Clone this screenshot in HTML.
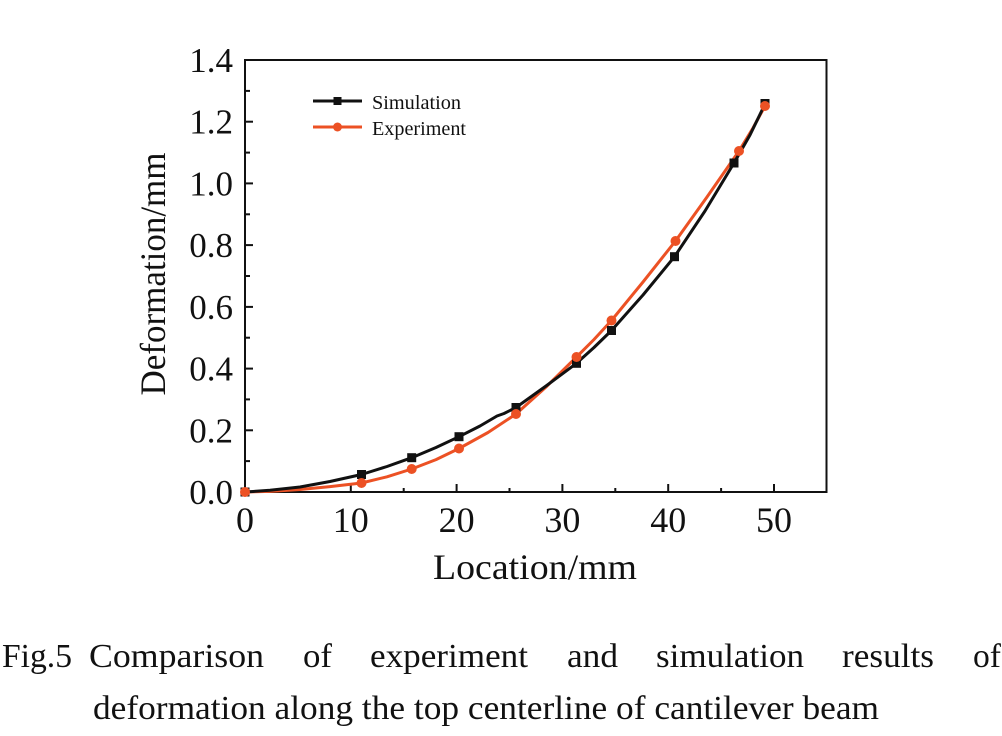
<!DOCTYPE html>
<html>
<head>
<meta charset="utf-8">
<style>
  html,body{margin:0;padding:0;background:#fff;}
  svg{display:block;}
  text{font-family:"Liberation Serif","Times New Roman",serif;fill:#111;}
</style>
</head>
<body>
<svg width="1002" height="736" viewBox="0 0 1002 736" xmlns="http://www.w3.org/2000/svg">
  <rect x="0" y="0" width="1002" height="736" fill="#fff"/>

  <!-- frame -->
  <rect x="245" y="60" width="581.5" height="432" fill="none" stroke="#111" stroke-width="2"/>

  <!-- x ticks (inward) -->
  <g stroke="#111" stroke-width="2">
    <line x1="350.8" y1="492" x2="350.8" y2="484"/>
    <line x1="456.6" y1="492" x2="456.6" y2="484"/>
    <line x1="562.4" y1="492" x2="562.4" y2="484"/>
    <line x1="668.2" y1="492" x2="668.2" y2="484"/>
    <line x1="774" y1="492" x2="774" y2="484"/>
    <line x1="297.9" y1="492" x2="297.9" y2="488"/>
    <line x1="403.7" y1="492" x2="403.7" y2="488"/>
    <line x1="509.5" y1="492" x2="509.5" y2="488"/>
    <line x1="615.3" y1="492" x2="615.3" y2="488"/>
    <line x1="721.1" y1="492" x2="721.1" y2="488"/>
  </g>
  <!-- y ticks (inward) -->
  <g stroke="#111" stroke-width="2">
    <line x1="245" y1="430.3" x2="253" y2="430.3"/>
    <line x1="245" y1="368.6" x2="253" y2="368.6"/>
    <line x1="245" y1="306.9" x2="253" y2="306.9"/>
    <line x1="245" y1="245.1" x2="253" y2="245.1"/>
    <line x1="245" y1="183.4" x2="253" y2="183.4"/>
    <line x1="245" y1="121.7" x2="253" y2="121.7"/>
    <line x1="245" y1="461.1" x2="250" y2="461.1"/>
    <line x1="245" y1="399.4" x2="250" y2="399.4"/>
    <line x1="245" y1="337.7" x2="250" y2="337.7"/>
    <line x1="245" y1="276" x2="250" y2="276"/>
    <line x1="245" y1="214.3" x2="250" y2="214.3"/>
    <line x1="245" y1="152.6" x2="250" y2="152.6"/>
    <line x1="245" y1="90.9" x2="250" y2="90.9"/>
  </g>

  <!-- y tick labels -->
  <g font-size="35" text-anchor="end">
    <text x="233" y="504">0.0</text>
    <text x="233" y="442.3">0.2</text>
    <text x="233" y="380.6">0.4</text>
    <text x="233" y="318.9">0.6</text>
    <text x="233" y="257.1">0.8</text>
    <text x="233" y="195.4">1.0</text>
    <text x="233" y="133.7">1.2</text>
    <text x="233" y="72">1.4</text>
  </g>
  <!-- x tick labels -->
  <g font-size="36" text-anchor="middle">
    <text x="245" y="532">0</text>
    <text x="350.8" y="532">10</text>
    <text x="456.6" y="532">20</text>
    <text x="562.4" y="532">30</text>
    <text x="668.2" y="532">40</text>
    <text x="774" y="532">50</text>
  </g>

  <!-- axis titles -->
  <text x="433" y="579" font-size="36" textLength="204" lengthAdjust="spacingAndGlyphs">Location/mm</text>
  <text transform="translate(165,274) rotate(-90)" x="0" y="0" font-size="36" text-anchor="middle" textLength="243" lengthAdjust="spacingAndGlyphs">Deformation/mm</text>

  <!-- Experiment series -->
  <polyline fill="none" stroke="#EC5124" stroke-width="3" stroke-linejoin="round"
    points="245,492 270,491.4 300,489.5 330,486.6 361.5,483 387,476.8 411.7,469 436,459.6 459,448.5 488,432.5 516,414 546,387 576.5,357 594,339.5 611.5,320.5 643,282 675.5,241 707,197 739,151 753,128 765,106"/>
  <!-- Simulation series -->
  <polyline fill="none" stroke="#111" stroke-width="3" stroke-linejoin="round"
    points="245,492 270,490.3 300,487 330,481.5 361.5,474.5 387,466.5 411.7,457.7 436,447.5 459,436.7 480,426 497,416 504,413.5 516,407.5 546,386 576.5,363.3 594,347.5 611.5,330.5 643,295 674.5,256.7 705,211 734,163 750,135 765,104"/>

  <!-- Simulation markers -->
  <g fill="#111">
    <rect x="240.5" y="487.5" width="9" height="9"/>
    <rect x="357" y="470" width="9" height="9"/>
    <rect x="407.2" y="453.2" width="9" height="9"/>
    <rect x="454.5" y="432.2" width="9" height="9"/>
    <rect x="511.5" y="403" width="9" height="9"/>
    <rect x="572" y="358.8" width="9" height="9"/>
    <rect x="607" y="326" width="9" height="9"/>
    <rect x="670" y="252.2" width="9" height="9"/>
    <rect x="729.5" y="158.5" width="9" height="9"/>
    <rect x="760.5" y="99" width="9" height="9"/>
  </g>
  <!-- Experiment markers -->
  <g fill="#EC5124">
    <circle cx="245" cy="492" r="5"/>
    <circle cx="361.5" cy="483" r="5"/>
    <circle cx="411.7" cy="469" r="5"/>
    <circle cx="459" cy="448.5" r="5"/>
    <circle cx="516" cy="414" r="5"/>
    <circle cx="576.5" cy="357" r="5"/>
    <circle cx="611.5" cy="320.5" r="5"/>
    <circle cx="675.5" cy="241" r="5"/>
    <circle cx="739" cy="151" r="5"/>
    <circle cx="765" cy="106" r="5"/>
  </g>

  <!-- legend -->
  <line x1="313" y1="101" x2="362" y2="101" stroke="#111" stroke-width="3"/>
  <rect x="333.5" y="97" width="8" height="8" fill="#111"/>
  <text x="372" y="109" font-size="20" textLength="89" lengthAdjust="spacingAndGlyphs">Simulation</text>
  <line x1="313" y1="127" x2="362" y2="127" stroke="#EC5124" stroke-width="3"/>
  <circle cx="337.5" cy="127" r="4.5" fill="#EC5124"/>
  <text x="372" y="135" font-size="20" textLength="94" lengthAdjust="spacingAndGlyphs">Experiment</text>

  <!-- caption -->
  <g font-size="34" lengthAdjust="spacingAndGlyphs">
    <text x="2" y="667" textLength="70" lengthAdjust="spacingAndGlyphs">Fig.5</text>
    <text x="89" y="667" textLength="175" lengthAdjust="spacingAndGlyphs">Comparison</text>
    <text x="303" y="667" textLength="29" lengthAdjust="spacingAndGlyphs">of</text>
    <text x="370" y="667" textLength="158" lengthAdjust="spacingAndGlyphs">experiment</text>
    <text x="567" y="667" textLength="51" lengthAdjust="spacingAndGlyphs">and</text>
    <text x="656" y="667" textLength="148" lengthAdjust="spacingAndGlyphs">simulation</text>
    <text x="842" y="667" textLength="92" lengthAdjust="spacingAndGlyphs">results</text>
    <text x="973" y="667" textLength="28" lengthAdjust="spacingAndGlyphs">of</text>
    <text x="93" y="719" textLength="786" lengthAdjust="spacingAndGlyphs">deformation along the top centerline of cantilever beam</text>
  </g>
</svg>
</body>
</html>
